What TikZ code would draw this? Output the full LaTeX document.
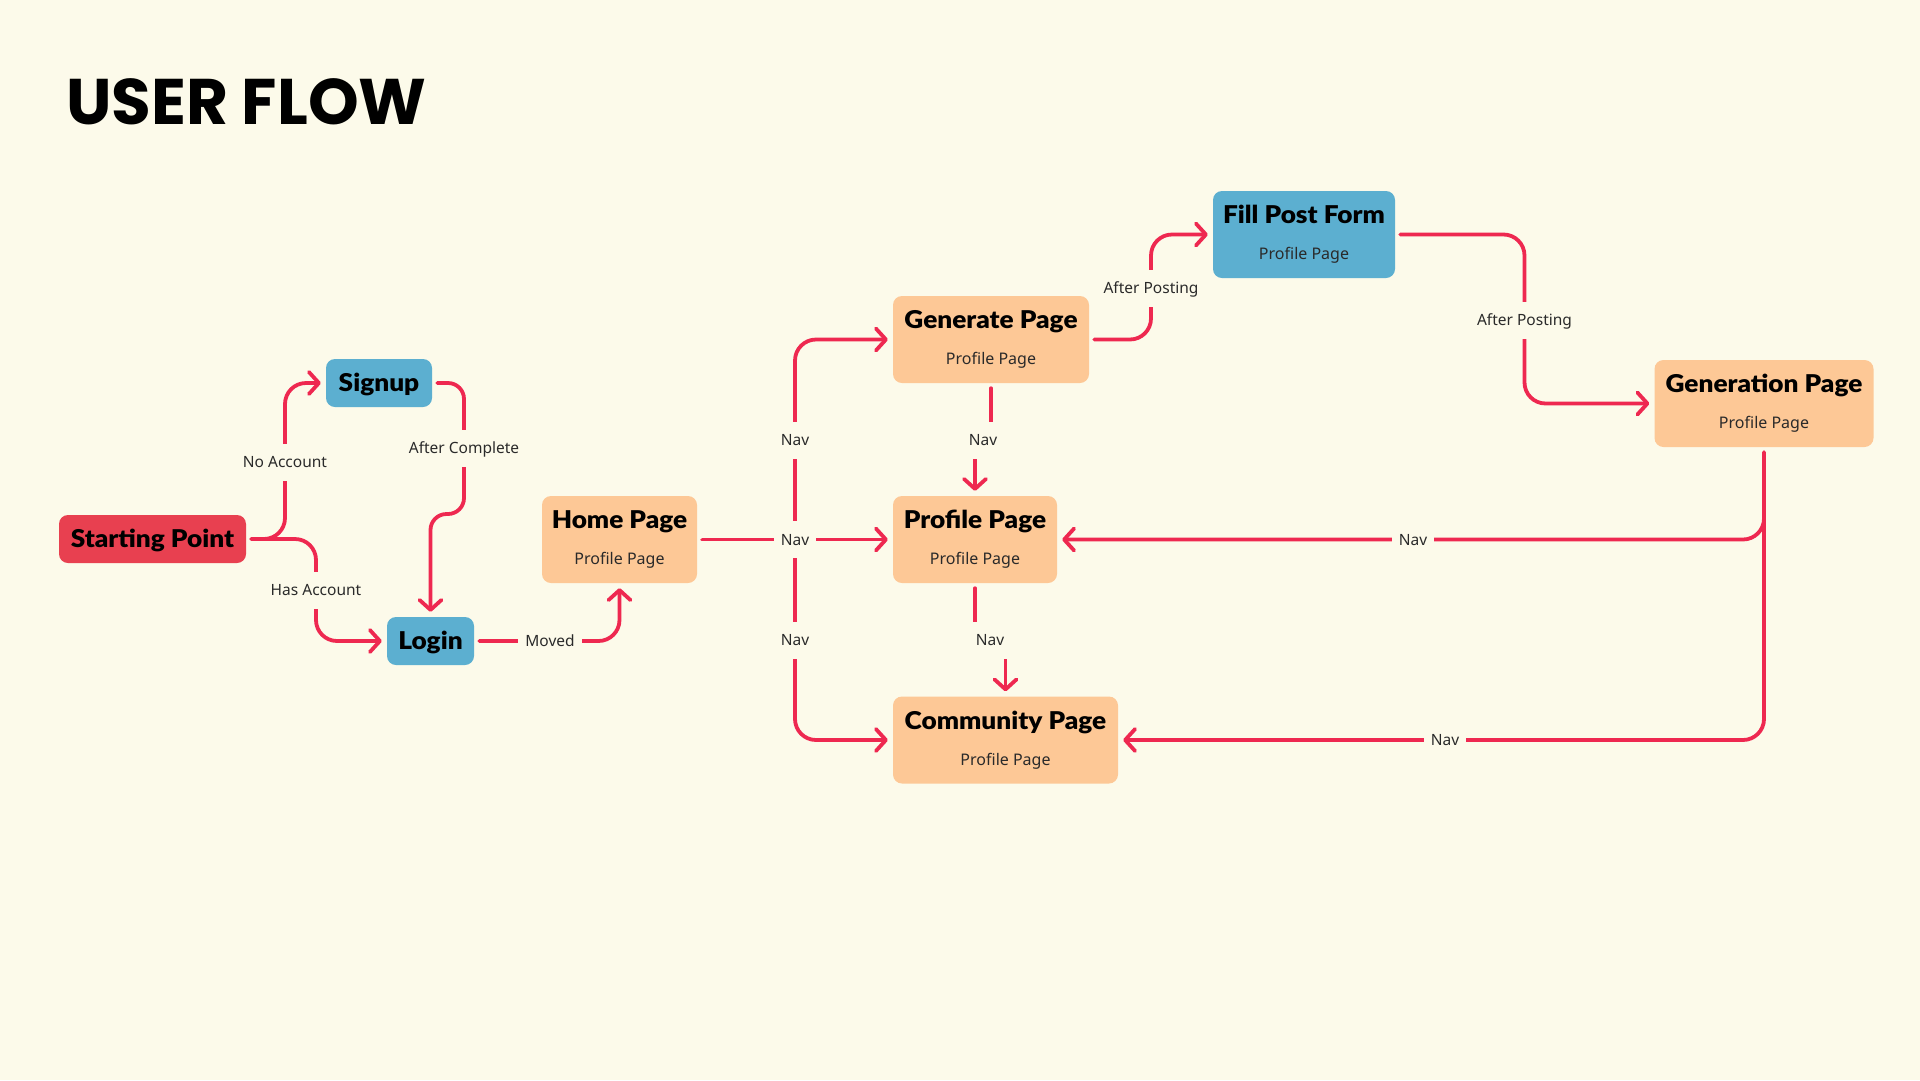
\documentclass[tikz,border=0pt]{standalone}
\usepackage{fontspec}
\usetikzlibrary{arrows.meta,calc}
\newfontfamily\heavyfont{Lato Black}[FakeStretch=1.07]
\newfontfamily\titlefont{Poppins}
\setmainfont{Noto Sans}
\definecolor{bg}{HTML}{FCFAEA}
\definecolor{cred}{HTML}{E84050}
\definecolor{cblue}{HTML}{5CAFD0}
\definecolor{cpeach}{HTML}{FDC896}
\definecolor{cline}{HTML}{EE2850}
\definecolor{ctext}{HTML}{2A2A2A}
\tikzset{
  box/.style={rounded corners=9pt, minimum height=48pt, inner sep=0pt,
    text height=17.7pt, text depth=0pt, font=\heavyfont\fontsize{24.5}{28}\selectfont},
  redbox/.style={box, fill=cred},
  bluebox/.style={box, fill=cblue},
  page/.style={box, fill=cpeach, minimum height=87pt},
  bluepage/.style={box, fill=cblue, minimum height=87pt},
  ttl/.style={anchor=base, inner sep=0pt, font=\heavyfont\fontsize{24.5}{28}\selectfont},
  sub/.style={anchor=base, inner sep=0pt, text=ctext, font=\fontsize{16}{20}\selectfont},
  conn/.style={draw=cline, line width=3.8pt, line cap=round, line join=round,
    rounded corners=21pt, shorten <=5pt, shorten >=5pt,
    -{Straight Barb[length=10pt,width=22pt,round]}},
  lbl/.style={fill=bg, inner xsep=7pt, inner ysep=13pt, text=ctext,
    text height=11pt, text depth=0pt, font=\fontsize{15.5}{18}\selectfont}
}
\begin{document}
\begin{tikzpicture}[x=1pt,y=-1pt]
\fill[bg] (0,0) rectangle (1920,1080);
\useasboundingbox (0,0) rectangle (1920,1080);

\node[anchor=base west, inner sep=0pt, font=\titlefont\bfseries\fontsize{64.5}{72}\selectfont] (title) at (66,124) {USER FLOW};

% boxes
\node[redbox, minimum width=187pt] (start) at (152.5,539) {Starting Point};
\node[bluebox, minimum width=106pt] (signup) at (379,383) {Signup};
\node[bluebox, minimum width=87pt] (login) at (430.5,641) {Login};

\node[page, minimum width=155pt] (home) at (619.5,539.5) {};
\node[ttl] (home-t) at ($(home.north)+(0,33)$) {Home Page};
\node[sub] (home-s) at ($(home.north)+(0,69)$) {Profile Page};

\node[page, minimum width=196pt] (gen) at (991,339.5) {};
\node[ttl] (gen-t) at ($(gen.north)+(0,33)$) {Generate Page};
\node[sub] (gen-s) at ($(gen.north)+(0,69)$) {Profile Page};

\node[page, minimum width=164pt] (prof) at (975,539.5) {};
\node[ttl] (prof-t) at ($(prof.north)+(0,33)$) {Profile Page};
\node[sub] (prof-s) at ($(prof.north)+(0,69)$) {Profile Page};

\node[page, minimum width=225pt] (comm) at (1005.5,740) {};
\node[ttl] (comm-t) at ($(comm.north)+(0,33)$) {Community Page};
\node[sub] (comm-s) at ($(comm.north)+(0,69)$) {Profile Page};

\node[bluepage, minimum width=182pt] (fill) at (1304,234.5) {};
\node[ttl] (fill-t) at ($(fill.north)+(0,33)$) {Fill Post Form};
\node[sub] (fill-s) at ($(fill.north)+(0,69)$) {Profile Page};

\node[page, minimum width=219pt] (genr) at (1764,403.5) {};
\node[ttl] (genr-t) at ($(genr.north)+(0,33)$) {Generation Page};
\node[sub] (genr-s) at ($(genr.north)+(0,69)$) {Profile Page};

\coordinate (hj) at (795,539.5);

% connectors
\draw[conn] (start.east) -- (285,539) |- (signup.west);
\draw[conn] (start.east) -- (316,539) |- (login.west);
\draw[conn, rounded corners=16pt] (signup.east) -- (464,383) -- (464,514) -- (430.5,514) -- (login.north);
\draw[conn] (login.east) -| (home.south);
\draw[conn, shorten <=0pt] (hj) |- (gen.west);
\draw[conn, shorten <=0pt] (hj) |- (comm.west);
\draw[conn] (home.east) -- (prof.west);
\draw[conn, rounded corners=0pt] (gen.south) -- (991,440) -- (975,440) -- (prof.north);
\draw[conn, rounded corners=0pt] (prof.south) -- (975,640) -- (1005.5,640) -- (comm.north);
\draw[conn] (gen.east) -- (1151,339.5) |- (fill.west);
\draw[conn] (fill.east) -- (1524.5,234.5) |- (genr.west);
\draw[conn] (genr.south) |- (prof.east);
\draw[conn] (genr.south) |- (comm.east);

% labels
\node[lbl] (l-noacc) at (285,462) {No Account};
\node[lbl] (l-hasacc) at (316,590) {Has Account};
\node[lbl] (l-after) at (464,448) {After Complete};
\node[lbl] (l-moved) at (550,641) {Moved};
\node[lbl] (l-nav1) at (795,539.5) {Nav};
\node[lbl] (l-nav2) at (795,440) {Nav};
\node[lbl] (l-nav3) at (795,640) {Nav};
\node[lbl] (l-nav4) at (983,440) {Nav};
\node[lbl] (l-nav5) at (990,640) {Nav};
\node[lbl] (l-post1) at (1151,288) {After Posting};
\node[lbl] (l-post2) at (1524.5,320) {After Posting};
\node[lbl] (l-nav6) at (1413,539.5) {Nav};
\node[lbl] (l-nav7) at (1445,740) {Nav};
\end{tikzpicture}
\end{document}
